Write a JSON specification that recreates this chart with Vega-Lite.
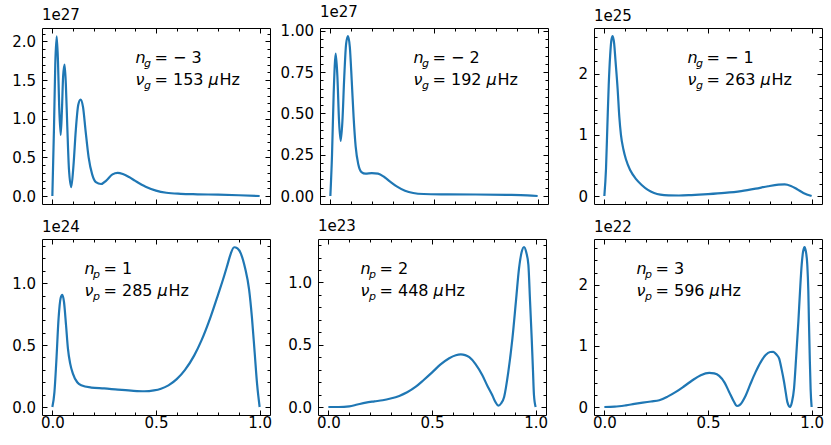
{
  "$schema": "https://vega.github.io/schema/vega-lite/v6.json",
  "padding": {"left": 5, "top": 4, "right": 5, "bottom": 5},
  "config": {
    "view": {"stroke": "black", "strokeWidth": 1},
    "font": "DejaVu Sans",
    "axis": {
      "domain": false, "grid": false, "title": null,
      "labelFont": "DejaVu Sans", "labelFontSize": 15, "labelColor": "black",
      "tickColor": "black", "tickWidth": 1,
      "labelFlush": false, "labelOverlap": false
    },
    "axisLeft": {"minExtent": 36, "maxExtent": 36, "labelPadding": 11.5},
    "axisBottom": {"labelPadding": 5},
    "axisTop": {"labels": false, "minExtent": 0, "maxExtent": 0},
    "axisRight": {"labels": false, "minExtent": 0, "maxExtent": 0},
    "title": {"anchor": "start", "frame": "group", "fontSize": 15, "fontWeight": "normal", "color": "black", "offset": 4, "baseline": "alphabetic"},
    "text": {"font": "DejaVu Sans", "fontSize": 16, "color": "black", "align": "left", "baseline": "alphabetic"},
    "line": {"color": "#1f77b4", "strokeWidth": 2.2, "interpolate": "monotone"}
  },
  "spacing": 13,
  "vconcat": [
    {
      "spacing": 8,
      "hconcat": [
        {
          "width": 228, "height": 176,
          "title": "1e27",
          "data": {"values": [
            {"x": 0, "y": 0}, {"x": 0.008, "y": 0.9e27}, {"x": 0.014, "y": 1.7e27}, {"x": 0.021, "y": 2.065e27},
            {"x": 0.027, "y": 1.75e27}, {"x": 0.033, "y": 1.15e27}, {"x": 0.040, "y": 0.79e27}, {"x": 0.046, "y": 1.1e27},
            {"x": 0.052, "y": 1.55e27}, {"x": 0.059, "y": 1.70e27}, {"x": 0.065, "y": 1.45e27}, {"x": 0.072, "y": 0.9e27},
            {"x": 0.080, "y": 0.35e27}, {"x": 0.091, "y": 0.115e27}, {"x": 0.102, "y": 0.4e27}, {"x": 0.113, "y": 0.85e27},
            {"x": 0.125, "y": 1.18e27}, {"x": 0.136, "y": 1.247e27}, {"x": 0.148, "y": 1.15e27}, {"x": 0.160, "y": 0.85e27},
            {"x": 0.175, "y": 0.50e27}, {"x": 0.192, "y": 0.28e27}, {"x": 0.21, "y": 0.18e27}, {"x": 0.235, "y": 0.155e27},
            {"x": 0.26, "y": 0.2e27}, {"x": 0.29, "y": 0.28e27}, {"x": 0.315, "y": 0.30e27}, {"x": 0.34, "y": 0.285e27},
            {"x": 0.37, "y": 0.245e27}, {"x": 0.40, "y": 0.195e27}, {"x": 0.45, "y": 0.12e27}, {"x": 0.50, "y": 0.07e27},
            {"x": 0.55, "y": 0.042e27}, {"x": 0.62, "y": 0.028e27}, {"x": 0.70, "y": 0.022e27}, {"x": 0.80, "y": 0.017e27},
            {"x": 0.90, "y": 0.01e27}, {"x": 1.0, "y": 0}
          ]},
          "layer": [
            {
              "mark": "line",
              "encoding": {
                "x": {"field": "x", "type": "quantitative", "scale": {"domain": [-0.05, 1.05], "nice": false, "zero": false},
                  "axis": {"orient": "bottom", "labels": false, "values": [0, 0.1, 0.2, 0.3, 0.4, 0.5, 0.6, 0.7, 0.8, 0.9, 1.0],
                    "tickSize": {"condition": {"test": "abs(datum.value*2 - round(datum.value*2)) < 1e-6", "value": -5}, "value": -3}}},
                "y": {"field": "y", "type": "quantitative", "scale": {"domain": [-0.1035e27, 2.1735e27], "nice": false, "zero": false},
                  "axis": {"orient": "left", "values": [0, 1e26, 2e26, 3e26, 4e26, 5e26, 6e26, 7e26, 8e26, 9e26, 1e27, 1.1e27, 1.2e27, 1.3e27, 1.4e27, 1.5e27, 1.6e27, 1.7e27, 1.8e27, 1.9e27, 2e27, 2.1e27],
                    "labelExpr": "abs(datum.value/5e26 - round(datum.value/5e26)) < 1e-6 ? format(datum.value/1e27, '.1f') : ''",
                    "tickSize": {"condition": {"test": "abs(datum.value/5e26 - round(datum.value/5e26)) < 1e-6", "value": -5}, "value": -3}}}
              }
            },
            {
              "mark": {"type": "line", "opacity": 0},
              "encoding": {
                "x": {"field": "x", "type": "quantitative", "scale": {"domain": [-0.05, 1.05], "nice": false, "zero": false},
                  "axis": {"orient": "top", "values": [0, 0.1, 0.2, 0.3, 0.4, 0.5, 0.6, 0.7, 0.8, 0.9, 1.0],
                    "tickSize": {"condition": {"test": "abs(datum.value*2 - round(datum.value*2)) < 1e-6", "value": -5}, "value": -3}}},
                "y": {"field": "y", "type": "quantitative", "scale": {"domain": [-0.1035e27, 2.1735e27], "nice": false, "zero": false},
                  "axis": {"orient": "right", "values": [0, 1e26, 2e26, 3e26, 4e26, 5e26, 6e26, 7e26, 8e26, 9e26, 1e27, 1.1e27, 1.2e27, 1.3e27, 1.4e27, 1.5e27, 1.6e27, 1.7e27, 1.8e27, 1.9e27, 2e27, 2.1e27],
                    "tickSize": {"condition": {"test": "abs(datum.value/5e26 - round(datum.value/5e26)) < 1e-6", "value": -5}, "value": -3}}}
              }
            },
            {
              "data": {"values": [{"x": 0.401, "y": 1.718e27, "sub": ["g", "g"], "rest": ["= − 3", "= 153"]}]},
              "encoding": {
                "x": {"field": "x", "type": "quantitative", "scale": {"domain": [-0.05, 1.05], "nice": false, "zero": false}, "axis": null},
                "y": {"field": "y", "type": "quantitative", "scale": {"domain": [-0.1035e27, 2.1735e27], "nice": false, "zero": false}, "axis": null}
              },
              "layer": [
                {"mark": {"type": "text", "text": ["n", "ν"], "fontStyle": "italic", "lineHeight": 22}},
                {"mark": {"type": "text", "fontStyle": "italic", "fontSize": 11, "lineHeight": 22, "dx": 8.5, "dy": 4}, "encoding": {"text": {"field": "sub", "type": "nominal"}}},
                {"mark": {"type": "text", "lineHeight": 22, "dx": 19}, "encoding": {"text": {"field": "rest", "type": "nominal"}}},
                {"mark": {"type": "text", "text": "μ", "fontStyle": "italic", "dx": 73, "dy": 22}},
                {"mark": {"type": "text", "text": "Hz", "dx": 84, "dy": 22}}
              ]
            }
          ],
          "resolve": {"axis": {"x": "independent", "y": "independent"}}
        },
        {
          "width": 228, "height": 176,
          "title": "1e27",
          "data": {"values": [
            {"x": 0, "y": 0}, {"x": 0.008, "y": 0.25e27}, {"x": 0.016, "y": 0.62e27}, {"x": 0.026, "y": 0.861e27},
            {"x": 0.034, "y": 0.72e27}, {"x": 0.042, "y": 0.45e27}, {"x": 0.050, "y": 0.333e27}, {"x": 0.058, "y": 0.45e27},
            {"x": 0.067, "y": 0.72e27}, {"x": 0.076, "y": 0.92e27}, {"x": 0.085, "y": 0.968e27}, {"x": 0.094, "y": 0.90e27},
            {"x": 0.103, "y": 0.70e27}, {"x": 0.112, "y": 0.48e27}, {"x": 0.122, "y": 0.30e27}, {"x": 0.135, "y": 0.19e27},
            {"x": 0.150, "y": 0.145e27}, {"x": 0.17, "y": 0.135e27}, {"x": 0.20, "y": 0.138e27}, {"x": 0.23, "y": 0.135e27},
            {"x": 0.26, "y": 0.115e27}, {"x": 0.29, "y": 0.085e27}, {"x": 0.32, "y": 0.058e27}, {"x": 0.36, "y": 0.032e27},
            {"x": 0.40, "y": 0.018e27}, {"x": 0.45, "y": 0.012e27}, {"x": 0.55, "y": 0.010e27}, {"x": 0.70, "y": 0.009e27},
            {"x": 0.85, "y": 0.007e27}, {"x": 0.95, "y": 0.004e27}, {"x": 1.0, "y": 0}
          ]},
          "layer": [
            {
              "mark": "line",
              "encoding": {
                "x": {"field": "x", "type": "quantitative", "scale": {"domain": [-0.05, 1.05], "nice": false, "zero": false},
                  "axis": {"orient": "bottom", "labels": false, "values": [0, 0.1, 0.2, 0.3, 0.4, 0.5, 0.6, 0.7, 0.8, 0.9, 1.0],
                    "tickSize": {"condition": {"test": "abs(datum.value*2 - round(datum.value*2)) < 1e-6", "value": -5}, "value": -3}}},
                "y": {"field": "y", "type": "quantitative", "scale": {"domain": [-0.0484e27, 1.0164e27], "nice": false, "zero": false},
                  "axis": {"orient": "left", "values": [0, 5e25, 1e26, 1.5e26, 2e26, 2.5e26, 3e26, 3.5e26, 4e26, 4.5e26, 5e26, 5.5e26, 6e26, 6.5e26, 7e26, 7.5e26, 8e26, 8.5e26, 9e26, 9.5e26, 1e27],
                    "labelExpr": "abs(datum.value/2.5e26 - round(datum.value/2.5e26)) < 1e-6 ? format(datum.value/1e27, '.2f') : ''",
                    "tickSize": {"condition": {"test": "abs(datum.value/2.5e26 - round(datum.value/2.5e26)) < 1e-6", "value": -5}, "value": -3}}}
              }
            },
            {
              "mark": {"type": "line", "opacity": 0},
              "encoding": {
                "x": {"field": "x", "type": "quantitative", "scale": {"domain": [-0.05, 1.05], "nice": false, "zero": false},
                  "axis": {"orient": "top", "values": [0, 0.1, 0.2, 0.3, 0.4, 0.5, 0.6, 0.7, 0.8, 0.9, 1.0],
                    "tickSize": {"condition": {"test": "abs(datum.value*2 - round(datum.value*2)) < 1e-6", "value": -5}, "value": -3}}},
                "y": {"field": "y", "type": "quantitative", "scale": {"domain": [-0.0484e27, 1.0164e27], "nice": false, "zero": false},
                  "axis": {"orient": "right", "values": [0, 5e25, 1e26, 1.5e26, 2e26, 2.5e26, 3e26, 3.5e26, 4e26, 4.5e26, 5e26, 5.5e26, 6e26, 6.5e26, 7e26, 7.5e26, 8e26, 8.5e26, 9e26, 9.5e26, 1e27],
                    "tickSize": {"condition": {"test": "abs(datum.value/2.5e26 - round(datum.value/2.5e26)) < 1e-6", "value": -5}, "value": -3}}}
              }
            },
            {
              "data": {"values": [{"x": 0.401, "y": 0.8034e27, "sub": ["g", "g"], "rest": ["= − 2", "= 192"]}]},
              "encoding": {
                "x": {"field": "x", "type": "quantitative", "scale": {"domain": [-0.05, 1.05], "nice": false, "zero": false}, "axis": null},
                "y": {"field": "y", "type": "quantitative", "scale": {"domain": [-0.0484e27, 1.0164e27], "nice": false, "zero": false}, "axis": null}
              },
              "layer": [
                {"mark": {"type": "text", "text": ["n", "ν"], "fontStyle": "italic", "lineHeight": 22}},
                {"mark": {"type": "text", "fontStyle": "italic", "fontSize": 11, "lineHeight": 22, "dx": 8.5, "dy": 4}, "encoding": {"text": {"field": "sub", "type": "nominal"}}},
                {"mark": {"type": "text", "lineHeight": 22, "dx": 19}, "encoding": {"text": {"field": "rest", "type": "nominal"}}},
                {"mark": {"type": "text", "text": "μ", "fontStyle": "italic", "dx": 73, "dy": 22}},
                {"mark": {"type": "text", "text": "Hz", "dx": 84, "dy": 22}}
              ]
            }
          ],
          "resolve": {"axis": {"x": "independent", "y": "independent"}}
        },
        {
          "width": 228, "height": 176,
          "title": "1e25",
          "data": {"values": [
            {"x": 0, "y": 0}, {"x": 0.008, "y": 0.45e25}, {"x": 0.015, "y": 1.2e25}, {"x": 0.021, "y": 1.81e25},
            {"x": 0.028, "y": 2.3e25}, {"x": 0.034, "y": 2.55e25}, {"x": 0.040, "y": 2.616e25}, {"x": 0.047, "y": 2.5e25},
            {"x": 0.054, "y": 2.2e25}, {"x": 0.064, "y": 1.75e25}, {"x": 0.072, "y": 1.30e25}, {"x": 0.080, "y": 1.0e25},
            {"x": 0.092, "y": 0.76e25}, {"x": 0.104, "y": 0.60e25}, {"x": 0.125, "y": 0.42e25}, {"x": 0.152, "y": 0.28e25},
            {"x": 0.18, "y": 0.18e25}, {"x": 0.21, "y": 0.10e25}, {"x": 0.24, "y": 0.05e25}, {"x": 0.27, "y": 0.022e25},
            {"x": 0.31, "y": 0.01e25}, {"x": 0.36, "y": 0.008e25}, {"x": 0.42, "y": 0.015e25}, {"x": 0.50, "y": 0.03e25},
            {"x": 0.58, "y": 0.05e25}, {"x": 0.66, "y": 0.08e25}, {"x": 0.73, "y": 0.12e25}, {"x": 0.79, "y": 0.16e25},
            {"x": 0.84, "y": 0.185e25}, {"x": 0.87, "y": 0.19e25}, {"x": 0.90, "y": 0.165e25}, {"x": 0.93, "y": 0.11e25},
            {"x": 0.96, "y": 0.05e25}, {"x": 1.0, "y": 0}
          ]},
          "layer": [
            {
              "mark": "line",
              "encoding": {
                "x": {"field": "x", "type": "quantitative", "scale": {"domain": [-0.05, 1.05], "nice": false, "zero": false},
                  "axis": {"orient": "bottom", "labels": false, "values": [0, 0.1, 0.2, 0.3, 0.4, 0.5, 0.6, 0.7, 0.8, 0.9, 1.0],
                    "tickSize": {"condition": {"test": "abs(datum.value*2 - round(datum.value*2)) < 1e-6", "value": -5}, "value": -3}}},
                "y": {"field": "y", "type": "quantitative", "scale": {"domain": [-0.1308e25, 2.7468e25], "nice": false, "zero": false},
                  "axis": {"orient": "left", "values": [0, 2e24, 4e24, 6e24, 8e24, 1e25, 1.2e25, 1.4e25, 1.6e25, 1.8e25, 2e25, 2.2e25, 2.4e25, 2.6e25],
                    "labelExpr": "abs(datum.value/1e25 - round(datum.value/1e25)) < 1e-6 ? format(datum.value/1e25, '.0f') : ''",
                    "tickSize": {"condition": {"test": "abs(datum.value/1e25 - round(datum.value/1e25)) < 1e-6", "value": -5}, "value": -3}}}
              }
            },
            {
              "mark": {"type": "line", "opacity": 0},
              "encoding": {
                "x": {"field": "x", "type": "quantitative", "scale": {"domain": [-0.05, 1.05], "nice": false, "zero": false},
                  "axis": {"orient": "top", "values": [0, 0.1, 0.2, 0.3, 0.4, 0.5, 0.6, 0.7, 0.8, 0.9, 1.0],
                    "tickSize": {"condition": {"test": "abs(datum.value*2 - round(datum.value*2)) < 1e-6", "value": -5}, "value": -3}}},
                "y": {"field": "y", "type": "quantitative", "scale": {"domain": [-0.1308e25, 2.7468e25], "nice": false, "zero": false},
                  "axis": {"orient": "right", "values": [0, 2e24, 4e24, 6e24, 8e24, 1e25, 1.2e25, 1.4e25, 1.6e25, 1.8e25, 2e25, 2.2e25, 2.4e25, 2.6e25],
                    "tickSize": {"condition": {"test": "abs(datum.value/1e25 - round(datum.value/1e25)) < 1e-6", "value": -5}, "value": -3}}}
              }
            },
            {
              "data": {"values": [{"x": 0.401, "y": 2.171e25, "sub": ["g", "g"], "rest": ["= − 1", "= 263"]}]},
              "encoding": {
                "x": {"field": "x", "type": "quantitative", "scale": {"domain": [-0.05, 1.05], "nice": false, "zero": false}, "axis": null},
                "y": {"field": "y", "type": "quantitative", "scale": {"domain": [-0.1308e25, 2.7468e25], "nice": false, "zero": false}, "axis": null}
              },
              "layer": [
                {"mark": {"type": "text", "text": ["n", "ν"], "fontStyle": "italic", "lineHeight": 22}},
                {"mark": {"type": "text", "fontStyle": "italic", "fontSize": 11, "lineHeight": 22, "dx": 8.5, "dy": 4}, "encoding": {"text": {"field": "sub", "type": "nominal"}}},
                {"mark": {"type": "text", "lineHeight": 22, "dx": 19}, "encoding": {"text": {"field": "rest", "type": "nominal"}}},
                {"mark": {"type": "text", "text": "μ", "fontStyle": "italic", "dx": 73, "dy": 22}},
                {"mark": {"type": "text", "text": "Hz", "dx": 84, "dy": 22}}
              ]
            }
          ],
          "resolve": {"axis": {"x": "independent", "y": "independent"}}
        }
      ]
    },
    {
      "spacing": 8,
      "hconcat": [
        {
          "width": 228, "height": 176,
          "title": "1e24",
          "data": {"values": [
            {"x": 0, "y": 0}, {"x": 0.01, "y": 0.12e24}, {"x": 0.019, "y": 0.365e24}, {"x": 0.030, "y": 0.716e24},
            {"x": 0.040, "y": 0.88e24}, {"x": 0.048, "y": 0.905e24}, {"x": 0.056, "y": 0.85e24}, {"x": 0.066, "y": 0.66e24},
            {"x": 0.075, "y": 0.473e24}, {"x": 0.086, "y": 0.35e24}, {"x": 0.099, "y": 0.27e24}, {"x": 0.12, "y": 0.20e24},
            {"x": 0.139, "y": 0.176e24}, {"x": 0.188, "y": 0.157e24}, {"x": 0.25, "y": 0.15e24}, {"x": 0.316, "y": 0.14e24},
            {"x": 0.38, "y": 0.132e24}, {"x": 0.444, "y": 0.127e24}, {"x": 0.49, "y": 0.134e24}, {"x": 0.524, "y": 0.148e24},
            {"x": 0.56, "y": 0.175e24}, {"x": 0.60, "y": 0.225e24}, {"x": 0.64, "y": 0.30e24}, {"x": 0.684, "y": 0.415e24},
            {"x": 0.72, "y": 0.54e24}, {"x": 0.764, "y": 0.73e24}, {"x": 0.80, "y": 0.91e24}, {"x": 0.829, "y": 1.06e24},
            {"x": 0.845, "y": 1.15e24}, {"x": 0.86, "y": 1.235e24}, {"x": 0.877, "y": 1.29e24}, {"x": 0.893, "y": 1.28e24},
            {"x": 0.909, "y": 1.24e24}, {"x": 0.93, "y": 1.12e24}, {"x": 0.949, "y": 0.95e24}, {"x": 0.963, "y": 0.72e24},
            {"x": 0.976, "y": 0.44e24}, {"x": 0.988, "y": 0.18e24}, {"x": 1.0, "y": 0}
          ]},
          "layer": [
            {
              "mark": "line",
              "encoding": {
                "x": {"field": "x", "type": "quantitative", "scale": {"domain": [-0.05, 1.05], "nice": false, "zero": false},
                  "axis": {"orient": "bottom", "values": [0, 0.1, 0.2, 0.3, 0.4, 0.5, 0.6, 0.7, 0.8, 0.9, 1.0],
                    "labelExpr": "abs(datum.value*2 - round(datum.value*2)) < 1e-6 ? format(datum.value, '.1f') : ''",
                    "tickSize": {"condition": {"test": "abs(datum.value*2 - round(datum.value*2)) < 1e-6", "value": -5}, "value": -3}}},
                "y": {"field": "y", "type": "quantitative", "scale": {"domain": [-0.0646e24, 1.3566e24], "nice": false, "zero": false},
                  "axis": {"orient": "left", "values": [0, 1e23, 2e23, 3e23, 4e23, 5e23, 6e23, 7e23, 8e23, 9e23, 1e24, 1.1e24, 1.2e24, 1.3e24],
                    "labelExpr": "abs(datum.value/5e23 - round(datum.value/5e23)) < 1e-6 ? format(datum.value/1e24, '.1f') : ''",
                    "tickSize": {"condition": {"test": "abs(datum.value/5e23 - round(datum.value/5e23)) < 1e-6", "value": -5}, "value": -3}}}
              }
            },
            {
              "mark": {"type": "line", "opacity": 0},
              "encoding": {
                "x": {"field": "x", "type": "quantitative", "scale": {"domain": [-0.05, 1.05], "nice": false, "zero": false},
                  "axis": {"orient": "top", "values": [0, 0.1, 0.2, 0.3, 0.4, 0.5, 0.6, 0.7, 0.8, 0.9, 1.0],
                    "tickSize": {"condition": {"test": "abs(datum.value*2 - round(datum.value*2)) < 1e-6", "value": -5}, "value": -3}}},
                "y": {"field": "y", "type": "quantitative", "scale": {"domain": [-0.0646e24, 1.3566e24], "nice": false, "zero": false},
                  "axis": {"orient": "right", "values": [0, 1e23, 2e23, 3e23, 4e23, 5e23, 6e23, 7e23, 8e23, 9e23, 1e24, 1.1e24, 1.2e24, 1.3e24],
                    "tickSize": {"condition": {"test": "abs(datum.value/5e23 - round(datum.value/5e23)) < 1e-6", "value": -5}, "value": -3}}}
              }
            },
            {
              "data": {"values": [{"x": 0.155, "y": 1.0724e24, "sub": ["p", "p"], "rest": ["= 1", "= 285"]}]},
              "encoding": {
                "x": {"field": "x", "type": "quantitative", "scale": {"domain": [-0.05, 1.05], "nice": false, "zero": false}, "axis": null},
                "y": {"field": "y", "type": "quantitative", "scale": {"domain": [-0.0646e24, 1.3566e24], "nice": false, "zero": false}, "axis": null}
              },
              "layer": [
                {"mark": {"type": "text", "text": ["n", "ν"], "fontStyle": "italic", "lineHeight": 22}},
                {"mark": {"type": "text", "fontStyle": "italic", "fontSize": 11, "lineHeight": 22, "dx": 8.5, "dy": 4}, "encoding": {"text": {"field": "sub", "type": "nominal"}}},
                {"mark": {"type": "text", "lineHeight": 22, "dx": 19}, "encoding": {"text": {"field": "rest", "type": "nominal"}}},
                {"mark": {"type": "text", "text": "μ", "fontStyle": "italic", "dx": 73, "dy": 22}},
                {"mark": {"type": "text", "text": "Hz", "dx": 84, "dy": 22}}
              ]
            }
          ],
          "resolve": {"axis": {"x": "independent", "y": "independent"}}
        },
        {
          "width": 228, "height": 176,
          "title": "1e23",
          "data": {"values": [
            {"x": 0, "y": 0}, {"x": 0.05, "y": 0}, {"x": 0.101, "y": 0.005e23}, {"x": 0.14, "y": 0.02e23},
            {"x": 0.181, "y": 0.035e23}, {"x": 0.222, "y": 0.045e23}, {"x": 0.262, "y": 0.054e23}, {"x": 0.30, "y": 0.068e23},
            {"x": 0.342, "y": 0.089e23}, {"x": 0.38, "y": 0.118e23}, {"x": 0.422, "y": 0.163e23}, {"x": 0.46, "y": 0.217e23},
            {"x": 0.502, "y": 0.28e23}, {"x": 0.54, "y": 0.34e23}, {"x": 0.583, "y": 0.392e23}, {"x": 0.615, "y": 0.416e23},
            {"x": 0.639, "y": 0.422e23}, {"x": 0.66, "y": 0.417e23}, {"x": 0.68, "y": 0.40e23}, {"x": 0.71, "y": 0.345e23},
            {"x": 0.743, "y": 0.255e23}, {"x": 0.77, "y": 0.16e23}, {"x": 0.791, "y": 0.094e23}, {"x": 0.806, "y": 0.04e23},
            {"x": 0.820, "y": 0.011e23}, {"x": 0.834, "y": 0.03e23}, {"x": 0.848, "y": 0.081e23}, {"x": 0.868, "y": 0.28e23},
            {"x": 0.888, "y": 0.551e23}, {"x": 0.905, "y": 0.85e23}, {"x": 0.920, "y": 1.116e23}, {"x": 0.932, "y": 1.24e23},
            {"x": 0.944, "y": 1.285e23}, {"x": 0.955, "y": 1.24e23}, {"x": 0.965, "y": 1.142e23}, {"x": 0.973, "y": 0.85e23},
            {"x": 0.981, "y": 0.551e23}, {"x": 0.987, "y": 0.30e23}, {"x": 0.992, "y": 0.094e23}, {"x": 1.0, "y": 0}
          ]},
          "layer": [
            {
              "mark": "line",
              "encoding": {
                "x": {"field": "x", "type": "quantitative", "scale": {"domain": [-0.05, 1.05], "nice": false, "zero": false},
                  "axis": {"orient": "bottom", "values": [0, 0.1, 0.2, 0.3, 0.4, 0.5, 0.6, 0.7, 0.8, 0.9, 1.0],
                    "labelExpr": "abs(datum.value*2 - round(datum.value*2)) < 1e-6 ? format(datum.value, '.1f') : ''",
                    "tickSize": {"condition": {"test": "abs(datum.value*2 - round(datum.value*2)) < 1e-6", "value": -5}, "value": -3}}},
                "y": {"field": "y", "type": "quantitative", "scale": {"domain": [-0.06425e23, 1.34925e23], "nice": false, "zero": false},
                  "axis": {"orient": "left", "values": [0, 1e22, 2e22, 3e22, 4e22, 5e22, 6e22, 7e22, 8e22, 9e22, 1e23, 1.1e23, 1.2e23, 1.3e23],
                    "labelExpr": "abs(datum.value/5e22 - round(datum.value/5e22)) < 1e-6 ? format(datum.value/1e23, '.1f') : ''",
                    "tickSize": {"condition": {"test": "abs(datum.value/5e22 - round(datum.value/5e22)) < 1e-6", "value": -5}, "value": -3}}}
              }
            },
            {
              "mark": {"type": "line", "opacity": 0},
              "encoding": {
                "x": {"field": "x", "type": "quantitative", "scale": {"domain": [-0.05, 1.05], "nice": false, "zero": false},
                  "axis": {"orient": "top", "values": [0, 0.1, 0.2, 0.3, 0.4, 0.5, 0.6, 0.7, 0.8, 0.9, 1.0],
                    "tickSize": {"condition": {"test": "abs(datum.value*2 - round(datum.value*2)) < 1e-6", "value": -5}, "value": -3}}},
                "y": {"field": "y", "type": "quantitative", "scale": {"domain": [-0.06425e23, 1.34925e23], "nice": false, "zero": false},
                  "axis": {"orient": "right", "values": [0, 1e22, 2e22, 3e22, 4e22, 5e22, 6e22, 7e22, 8e22, 9e22, 1e23, 1.1e23, 1.2e23, 1.3e23],
                    "tickSize": {"condition": {"test": "abs(datum.value/5e22 - round(datum.value/5e22)) < 1e-6", "value": -5}, "value": -3}}}
              }
            },
            {
              "data": {"values": [{"x": 0.155, "y": 1.0666e23, "sub": ["p", "p"], "rest": ["= 2", "= 448"]}]},
              "encoding": {
                "x": {"field": "x", "type": "quantitative", "scale": {"domain": [-0.05, 1.05], "nice": false, "zero": false}, "axis": null},
                "y": {"field": "y", "type": "quantitative", "scale": {"domain": [-0.06425e23, 1.34925e23], "nice": false, "zero": false}, "axis": null}
              },
              "layer": [
                {"mark": {"type": "text", "text": ["n", "ν"], "fontStyle": "italic", "lineHeight": 22}},
                {"mark": {"type": "text", "fontStyle": "italic", "fontSize": 11, "lineHeight": 22, "dx": 8.5, "dy": 4}, "encoding": {"text": {"field": "sub", "type": "nominal"}}},
                {"mark": {"type": "text", "lineHeight": 22, "dx": 19}, "encoding": {"text": {"field": "rest", "type": "nominal"}}},
                {"mark": {"type": "text", "text": "μ", "fontStyle": "italic", "dx": 73, "dy": 22}},
                {"mark": {"type": "text", "text": "Hz", "dx": 84, "dy": 22}}
              ]
            }
          ],
          "resolve": {"axis": {"x": "independent", "y": "independent"}}
        },
        {
          "width": 228, "height": 176,
          "title": "1e22",
          "data": {"values": [
            {"x": 0, "y": 0}, {"x": 0.05, "y": 0.005e22}, {"x": 0.104, "y": 0.027e22}, {"x": 0.145, "y": 0.05e22},
            {"x": 0.185, "y": 0.071e22}, {"x": 0.225, "y": 0.09e22}, {"x": 0.265, "y": 0.11e22}, {"x": 0.305, "y": 0.17e22},
            {"x": 0.345, "y": 0.247e22}, {"x": 0.385, "y": 0.34e22}, {"x": 0.425, "y": 0.438e22}, {"x": 0.465, "y": 0.52e22},
            {"x": 0.506, "y": 0.559e22}, {"x": 0.530, "y": 0.55e22}, {"x": 0.554, "y": 0.51e22}, {"x": 0.580, "y": 0.40e22},
            {"x": 0.602, "y": 0.247e22}, {"x": 0.626, "y": 0.082e22}, {"x": 0.639, "y": 0.016e22}, {"x": 0.655, "y": 0.04e22},
            {"x": 0.682, "y": 0.19e22}, {"x": 0.705, "y": 0.38e22}, {"x": 0.730, "y": 0.575e22}, {"x": 0.755, "y": 0.74e22},
            {"x": 0.778, "y": 0.85e22}, {"x": 0.800, "y": 0.90e22}, {"x": 0.815, "y": 0.904e22}, {"x": 0.830, "y": 0.86e22},
            {"x": 0.843, "y": 0.795e22}, {"x": 0.855, "y": 0.62e22}, {"x": 0.867, "y": 0.41e22}, {"x": 0.875, "y": 0.24e22},
            {"x": 0.883, "y": 0.08e22}, {"x": 0.896, "y": 0}, {"x": 0.905, "y": 0.08e22}, {"x": 0.915, "y": 0.30e22},
            {"x": 0.925, "y": 0.80e22}, {"x": 0.936, "y": 1.40e22}, {"x": 0.944, "y": 1.90e22}, {"x": 0.952, "y": 2.33e22},
            {"x": 0.959, "y": 2.55e22}, {"x": 0.966, "y": 2.62e22}, {"x": 0.972, "y": 2.55e22}, {"x": 0.979, "y": 2.33e22},
            {"x": 0.984, "y": 1.90e22}, {"x": 0.987, "y": 1.40e22}, {"x": 0.991, "y": 0.80e22}, {"x": 0.995, "y": 0.30e22},
            {"x": 1.0, "y": 0}
          ]},
          "layer": [
            {
              "mark": "line",
              "encoding": {
                "x": {"field": "x", "type": "quantitative", "scale": {"domain": [-0.05, 1.05], "nice": false, "zero": false},
                  "axis": {"orient": "bottom", "values": [0, 0.1, 0.2, 0.3, 0.4, 0.5, 0.6, 0.7, 0.8, 0.9, 1.0],
                    "labelExpr": "abs(datum.value*2 - round(datum.value*2)) < 1e-6 ? format(datum.value, '.1f') : ''",
                    "tickSize": {"condition": {"test": "abs(datum.value*2 - round(datum.value*2)) < 1e-6", "value": -5}, "value": -3}}},
                "y": {"field": "y", "type": "quantitative", "scale": {"domain": [-0.131e22, 2.751e22], "nice": false, "zero": false},
                  "axis": {"orient": "left", "values": [0, 2e21, 4e21, 6e21, 8e21, 1e22, 1.2e22, 1.4e22, 1.6e22, 1.8e22, 2e22, 2.2e22, 2.4e22, 2.6e22],
                    "labelExpr": "abs(datum.value/1e22 - round(datum.value/1e22)) < 1e-6 ? format(datum.value/1e22, '.0f') : ''",
                    "tickSize": {"condition": {"test": "abs(datum.value/1e22 - round(datum.value/1e22)) < 1e-6", "value": -5}, "value": -3}}}
              }
            },
            {
              "mark": {"type": "line", "opacity": 0},
              "encoding": {
                "x": {"field": "x", "type": "quantitative", "scale": {"domain": [-0.05, 1.05], "nice": false, "zero": false},
                  "axis": {"orient": "top", "values": [0, 0.1, 0.2, 0.3, 0.4, 0.5, 0.6, 0.7, 0.8, 0.9, 1.0],
                    "tickSize": {"condition": {"test": "abs(datum.value*2 - round(datum.value*2)) < 1e-6", "value": -5}, "value": -3}}},
                "y": {"field": "y", "type": "quantitative", "scale": {"domain": [-0.131e22, 2.751e22], "nice": false, "zero": false},
                  "axis": {"orient": "right", "values": [0, 2e21, 4e21, 6e21, 8e21, 1e22, 1.2e22, 1.4e22, 1.6e22, 1.8e22, 2e22, 2.2e22, 2.4e22, 2.6e22],
                    "tickSize": {"condition": {"test": "abs(datum.value/1e22 - round(datum.value/1e22)) < 1e-6", "value": -5}, "value": -3}}}
              }
            },
            {
              "data": {"values": [{"x": 0.155, "y": 2.1746e22, "sub": ["p", "p"], "rest": ["= 3", "= 596"]}]},
              "encoding": {
                "x": {"field": "x", "type": "quantitative", "scale": {"domain": [-0.05, 1.05], "nice": false, "zero": false}, "axis": null},
                "y": {"field": "y", "type": "quantitative", "scale": {"domain": [-0.131e22, 2.751e22], "nice": false, "zero": false}, "axis": null}
              },
              "layer": [
                {"mark": {"type": "text", "text": ["n", "ν"], "fontStyle": "italic", "lineHeight": 22}},
                {"mark": {"type": "text", "fontStyle": "italic", "fontSize": 11, "lineHeight": 22, "dx": 8.5, "dy": 4}, "encoding": {"text": {"field": "sub", "type": "nominal"}}},
                {"mark": {"type": "text", "lineHeight": 22, "dx": 19}, "encoding": {"text": {"field": "rest", "type": "nominal"}}},
                {"mark": {"type": "text", "text": "μ", "fontStyle": "italic", "dx": 73, "dy": 22}},
                {"mark": {"type": "text", "text": "Hz", "dx": 84, "dy": 22}}
              ]
            }
          ],
          "resolve": {"axis": {"x": "independent", "y": "independent"}}
        }
      ]
    }
  ]
}
